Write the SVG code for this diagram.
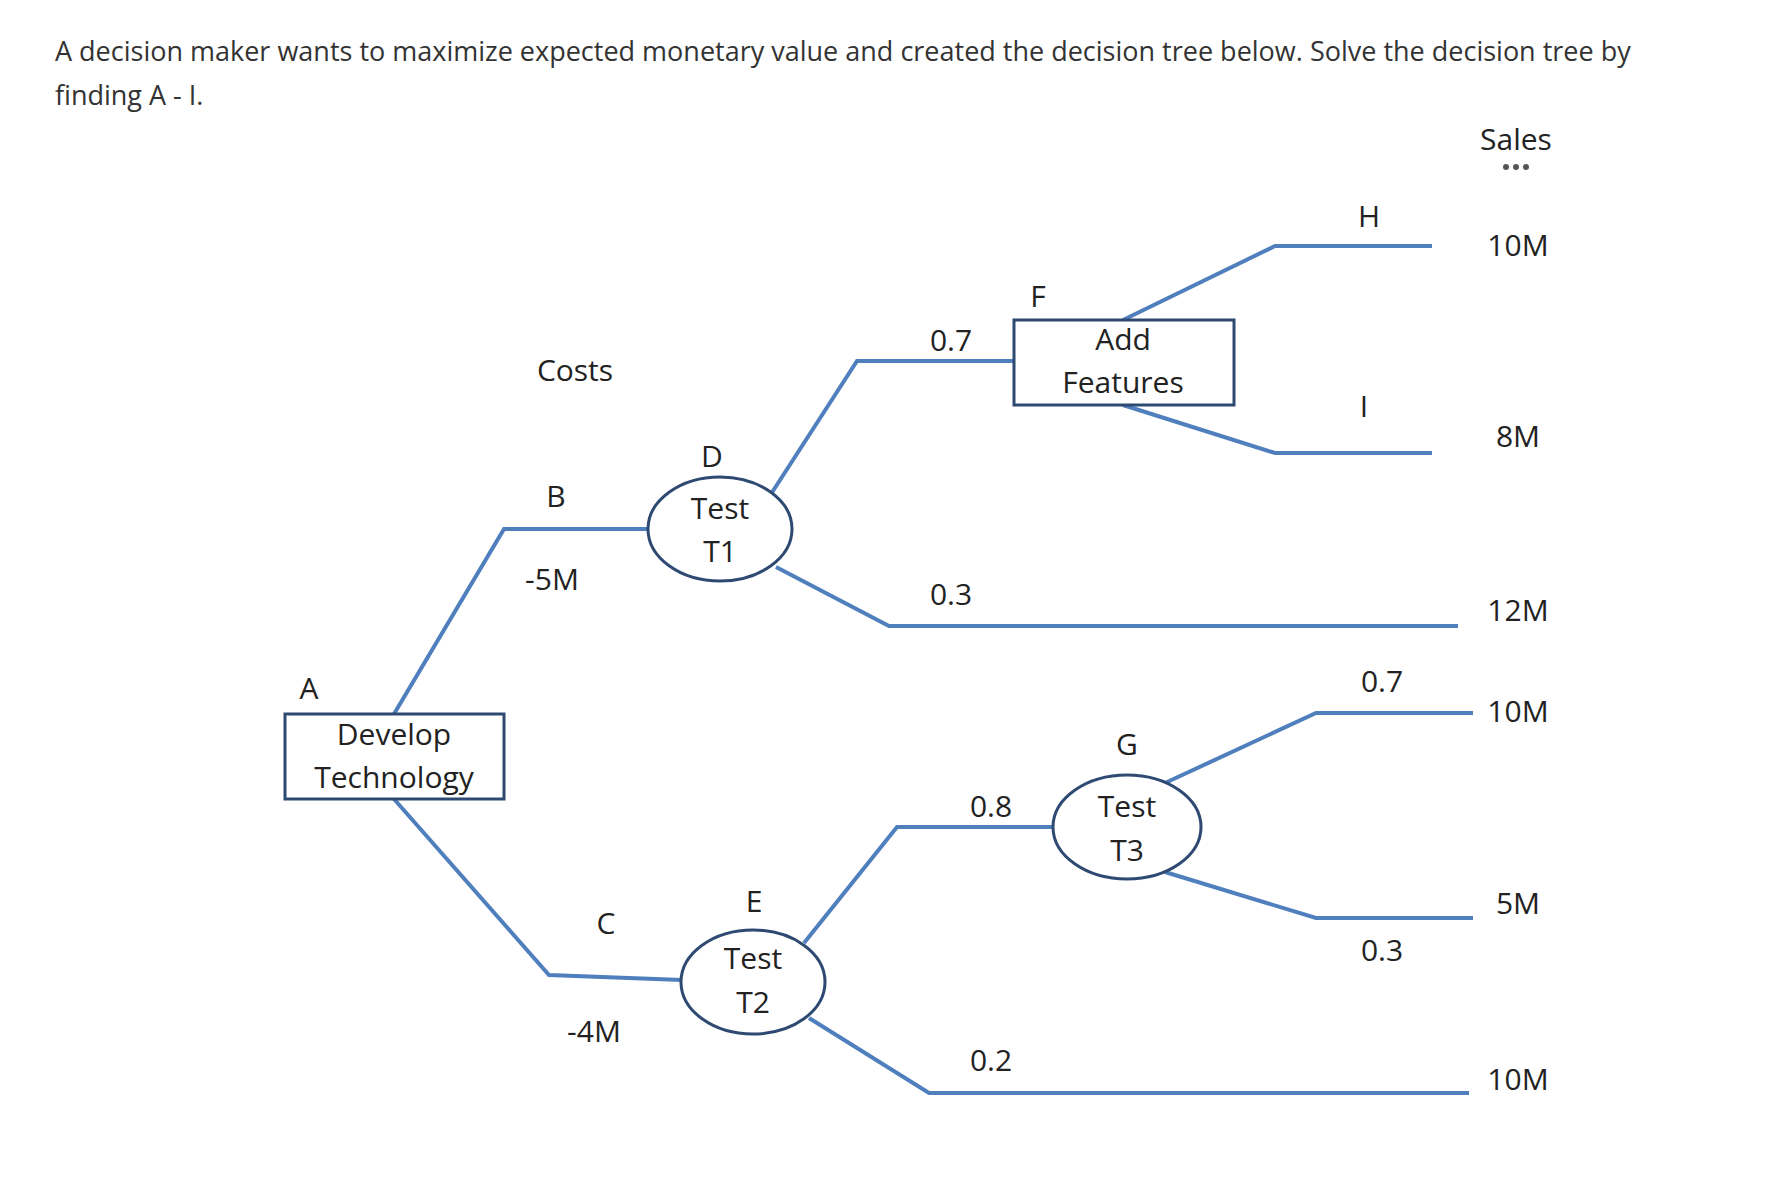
<svg xmlns="http://www.w3.org/2000/svg" width="1788" height="1178" viewBox="0 0 1788 1178">
<style>
text{font-family:"Open Sans","Liberation Sans",sans-serif;fill:#222;}
.t{font-size:27px;fill:#333;}
.l{font-size:30px;text-anchor:middle;}
.c{fill:none;stroke:#4f7fbd;stroke-width:4;}
.n{fill:#fff;stroke:#2e4a72;stroke-width:3;}
</style>
<rect width="1788" height="1178" fill="#fff"/>
<text class="t" x="55" y="61">A decision maker wants to maximize expected monetary value and created the decision tree below. Solve the decision tree by</text>
<text class="t" x="55" y="105">finding A - I.</text>
<g id="connectors">
<polyline class="c" points="394,714 504,529 649,529"/>
<polyline class="c" points="394,799 549,975 682,980"/>
<polyline class="c" points="771,494 857,361 1014,361"/>
<polyline class="c" points="776,567 889,626 1458,626"/>
<polyline class="c" points="1123,320 1275,246 1432,246"/>
<polyline class="c" points="1123,405 1275,453 1432,453"/>
<polyline class="c" points="804,943 897,827 1052,827"/>
<polyline class="c" points="809,1018 929,1093 1469,1093"/>
<polyline class="c" points="1165,783 1316,713 1473,713"/>
<polyline class="c" points="1165,872 1316,918 1473,918"/>
</g>
<g id="labels">
<text class="l" x="1516" y="150">Sales</text>
<circle cx="1506" cy="167" r="3" fill="#555"/><circle cx="1516" cy="167" r="3" fill="#555"/><circle cx="1526" cy="167" r="3" fill="#555"/>
<text class="l" x="575" y="381">Costs</text>
<text class="l" x="556" y="507">B</text>
<text class="l" x="552" y="590">-5M</text>
<text class="l" x="606" y="934">C</text>
<text class="l" x="594" y="1042">-4M</text>
<text class="l" x="951" y="351">0.7</text>
<text class="l" x="951" y="605">0.3</text>
<text class="l" x="991" y="817">0.8</text>
<text class="l" x="991" y="1071">0.2</text>
<text class="l" x="1369" y="227">H</text>
<text class="l" x="1364" y="417">I</text>
<text class="l" x="1382" y="692">0.7</text>
<text class="l" x="1382" y="961">0.3</text>
<text class="l" x="1518" y="256">10M</text>
<text class="l" x="1518" y="447">8M</text>
<text class="l" x="1518" y="621">12M</text>
<text class="l" x="1518" y="722">10M</text>
<text class="l" x="1518" y="914">5M</text>
<text class="l" x="1518" y="1090">10M</text>
</g>
<g id="nodeA">
<rect class="n" x="285" y="714" width="219" height="85"/>
<text class="l" x="309" y="699">A</text>
<text class="l" x="394" y="745">Develop</text>
<text class="l" x="394" y="788">Technology</text>
</g>
<g id="nodeD">
<ellipse class="n" cx="720" cy="529" rx="72" ry="52"/>
<text class="l" x="712" y="467">D</text>
<text class="l" x="720" y="519">Test</text>
<text class="l" x="720" y="562">T1</text>
</g>
<g id="nodeE">
<ellipse class="n" cx="753" cy="982" rx="72" ry="52"/>
<text class="l" x="754" y="912">E</text>
<text class="l" x="753" y="969">Test</text>
<text class="l" x="753" y="1013">T2</text>
</g>
<g id="nodeF">
<rect class="n" x="1014" y="320" width="220" height="85"/>
<text class="l" x="1038" y="307">F</text>
<text class="l" x="1123" y="350">Add</text>
<text class="l" x="1123" y="393">Features</text>
</g>
<g id="nodeG">
<ellipse class="n" cx="1127" cy="827" rx="74" ry="52"/>
<text class="l" x="1127" y="755">G</text>
<text class="l" x="1127" y="817">Test</text>
<text class="l" x="1127" y="861">T3</text>
</g>
</svg>
